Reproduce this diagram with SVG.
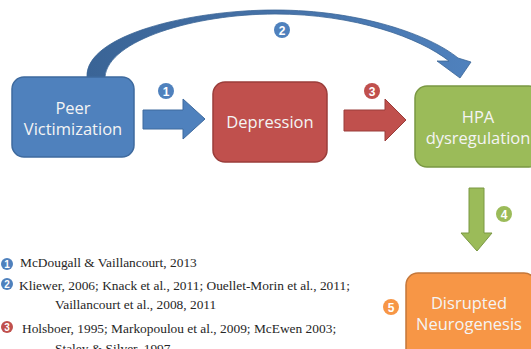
<svg xmlns="http://www.w3.org/2000/svg" width="531" height="349" viewBox="0 0 531 349">
<style>
.lbl{font-family:"Open Sans","Noto Sans",sans-serif;font-size:16.5px;fill:#F4F4F4;text-anchor:middle}
.ref{font-family:"Liberation Serif","Times New Roman",serif;font-size:13.4px;fill:#262626}
.num{font-family:"Liberation Sans",Arial,sans-serif;font-weight:bold;fill:#ffffff;text-anchor:middle}
</style>
<defs>
<linearGradient id="curveGrad" x1="0" y1="0" x2="1" y2="0">
<stop offset="0" stop-color="#3A6496"/>
<stop offset="0.5" stop-color="#4672A8"/>
<stop offset="1" stop-color="#4F81BD"/>
</linearGradient>
</defs>
<rect width="531" height="349" fill="#ffffff"/>

<g id="connectors">
<path id="arrow2" d="M 87 77 C 85 35 190 10 275 10 C 360 10 430 35 458 58 L 471 62 L 460 78 L 437 61 L 449 61 C 420 38 355 14 275 14 C 195 14 108 40 105 77 Z" fill="url(#curveGrad)" stroke="#3A6496" stroke-width="0.8"/>
<polygon id="arrow1" points="143,110 183,110 183,99 205,119 183,139 183,129 143,129" fill="#4F81BD" stroke="#3E6A9E" stroke-width="1"/>
<polygon id="arrow3" points="344,110 385,110 385,99 406,120 385,141 385,131 344,131" fill="#C0504D" stroke="#9A3D3A" stroke-width="1"/>
<polygon id="arrow4" points="469,188 484,188 484,233 492,233 477,251 461,233 469,233" fill="#9BBB59" stroke="#7A9843" stroke-width="1"/>
</g>

<g id="badges">
<circle cx="166" cy="91" r="8" fill="#4F81BD"/><text class="num" x="166" y="95.5" font-size="12">1</text>
<circle cx="282" cy="30" r="8" fill="#4F81BD"/><text class="num" x="282" y="34.5" font-size="12">2</text>
<circle cx="372" cy="91" r="8" fill="#C0504D"/><text class="num" x="372" y="95.5" font-size="12">3</text>
<circle cx="504" cy="214" r="8" fill="#9BBB59"/><text class="num" x="504" y="218.5" font-size="12">4</text>
<circle cx="391" cy="307" r="8" fill="#F79646"/><text class="num" x="391" y="311.5" font-size="12">5</text>
</g>

<g id="peer">
<rect x="12" y="77" width="122" height="80" rx="12" fill="#4F81BD" stroke="#3E6A9E" stroke-width="1.5"/>
<text class="lbl" x="73" y="114">Peer</text>
<text class="lbl" x="73" y="135">Victimization</text>
</g>

<g id="depression">
<rect x="213" y="82" width="114" height="80" rx="12" fill="#C0504D" stroke="#9A3D3A" stroke-width="1.5"/>
<text class="lbl" x="270" y="128">Depression</text>
</g>

<g id="hpa">
<rect x="415" y="86" width="126" height="81" rx="12" fill="#9BBB59" stroke="#7A9843" stroke-width="1.5"/>
<text class="lbl" x="478" y="123">HPA</text>
<text class="lbl" x="478" y="144">dysregulation</text>
</g>

<g id="neurogenesis">
<rect x="406" y="273" width="130" height="90" rx="12" fill="#F79646" stroke="#C4773A" stroke-width="1.5"/>
<text class="lbl" x="469" y="309">Disrupted</text>
<text class="lbl" x="469" y="330">Neurogenesis</text>
</g>

<g id="references">
<circle cx="7" cy="264" r="6" fill="#4F81BD"/><text class="num" x="7" y="267.6" font-size="10">1</text>
<circle cx="7" cy="284" r="6" fill="#4F81BD"/><text class="num" x="7" y="287.6" font-size="10">2</text>
<circle cx="7" cy="327" r="6" fill="#C0504D"/><text class="num" x="7" y="330.6" font-size="10">3</text>
<text class="ref" x="20" y="267">McDougall &amp; Vaillancourt, 2013</text>
<text class="ref" x="19" y="290">Kliewer, 2006; Knack et al., 2011; Ouellet-Morin et al., 2011;</text>
<text class="ref" x="55" y="309">Vaillancourt et al., 2008, 2011</text>
<text class="ref" x="22" y="333">Holsboer, 1995; Markopoulou et al., 2009; McEwen 2003;</text>
<text class="ref" x="55" y="353">Staley &amp; Silver, 1997</text>
</g>
</svg>
